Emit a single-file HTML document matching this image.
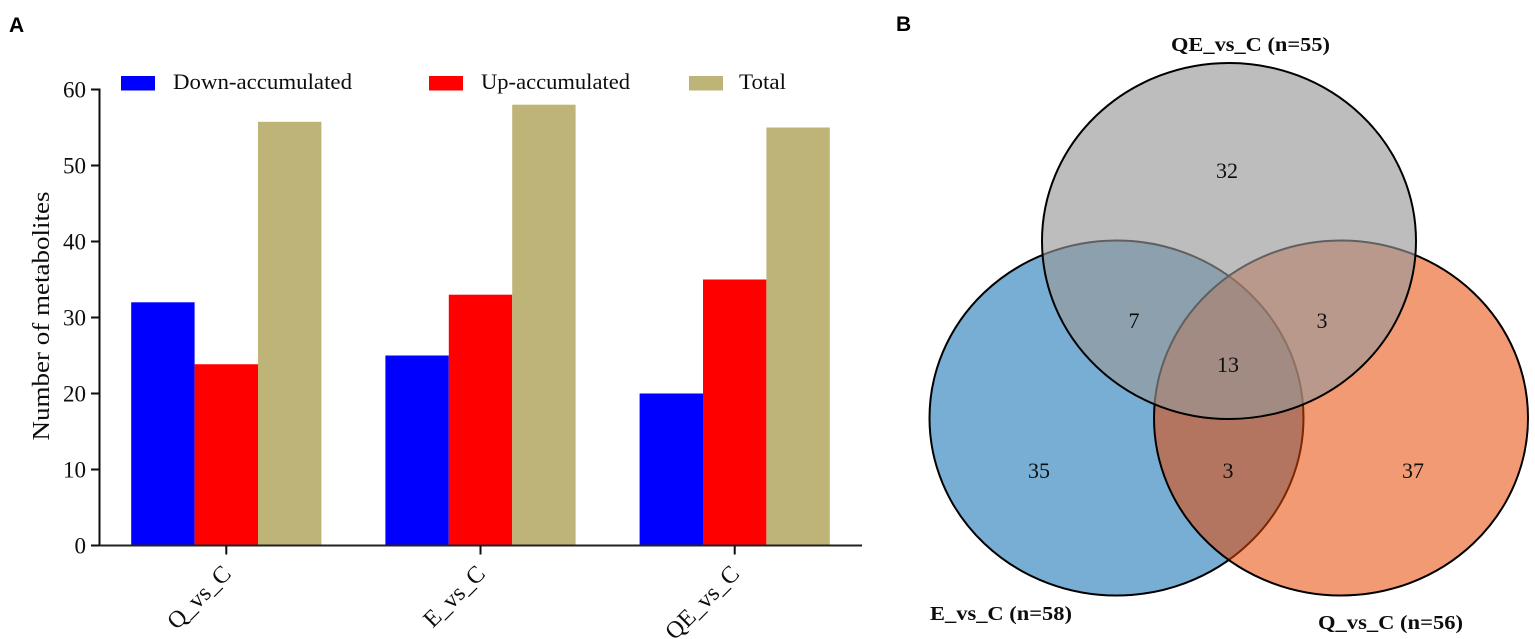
<!DOCTYPE html>
<html lang="en">
<head>
<meta charset="utf-8">
<title>Metabolite counts and Venn diagram</title>
<style>
html,body{margin:0;padding:0;background:#fff;width:1535px;height:639px;overflow:hidden}
svg{display:block}
text{font-family:"Liberation Serif",serif;fill:#111}
.panel{font-family:"Liberation Sans",sans-serif;font-weight:700;font-size:21px;fill:#000}
.vl{font-weight:700;font-size:20px}
.vn{font-size:22px;text-anchor:middle}
.soft{filter:url(#soft)}
</style>
</head>
<body>
<svg id="fig" xmlns="http://www.w3.org/2000/svg" width="1535" height="639" viewBox="0 0 1535 639">
  <defs><filter id="soft" x="-5%" y="-5%" width="110%" height="110%"><feGaussianBlur stdDeviation="0.35"/></filter></defs>
  <text class="panel" x="9" y="32">A</text>
  <text class="panel" x="896" y="31">B</text>
  <g id="chart" class="soft"></g>
  <g id="venn" class="soft">
    <ellipse cx="1116.5" cy="418" rx="187" ry="177.5" fill="#79aed4" stroke="#000" stroke-width="2"/>
    <ellipse cx="1341" cy="418" rx="187" ry="177.5" fill="#e64700" fill-opacity="0.55" stroke="#000" stroke-width="2"/>
    <ellipse cx="1229" cy="241" rx="187" ry="178" fill="#989898" fill-opacity="0.64" stroke="#000" stroke-width="2"/>
    <text class="vn" x="1227" y="178">32</text>
    <text class="vn" x="1134" y="328">7</text>
    <text class="vn" x="1322" y="328">3</text>
    <text class="vn" x="1228" y="372">13</text>
    <text class="vn" x="1039" y="478">35</text>
    <text class="vn" x="1228" y="478">3</text>
    <text class="vn" x="1413" y="478">37</text>
    <text class="vl" x="1171" y="51" textLength="159" lengthAdjust="spacingAndGlyphs">QE_vs_C (n=55)</text>
    <text class="vl" x="930" y="620" textLength="142" lengthAdjust="spacingAndGlyphs">E_vs_C (n=58)</text>
    <text class="vl" x="1318" y="629" textLength="145" lengthAdjust="spacingAndGlyphs">Q_vs_C (n=56)</text>
  </g>
</svg>
<script>
const categories = ['Q_vs_C', 'E_vs_C', 'QE_vs_C'];
const downValues = [32, 25, 20];
const upValues = [23.85, 33, 35];
const totalValues = [55.75, 58, 55];
const yTickLabels = [0, 10, 20, 30, 40, 50, 60];
const seriesNames = ['Down-accumulated', 'Up-accumulated', 'Total'];

const SVGNS = 'http://www.w3.org/2000/svg';
const chart = document.getElementById('chart');
const seriesColors = ['#0000ff', '#ff0000', '#bfb478'];
const seriesValues = [downValues, upValues, totalValues];
const barWidth = 63.4;

function yScale(v) { return 545.5 - v * (456 / 60); }
function xScale(i) { return 226.3 + i * 254.2; }

function make(tag, attrs, text) {
  const el = document.createElementNS(SVGNS, tag);
  for (const k in attrs) el.setAttribute(k, attrs[k]);
  if (text !== undefined) el.textContent = text;
  chart.appendChild(el);
  return el;
}

seriesValues.forEach(function (vals, s) {
  vals.forEach(function (v, i) {
    const bar = make('rect', {
      x: xScale(i) + (s - 1.5) * barWidth,
      y: yScale(v),
      width: barWidth,
      height: yScale(0) - yScale(v),
      fill: seriesColors[s]
    });
    
    
  });
});

const yAxis = make('line', { x1: 99.5, x2: 99.5, y1: yScale(60) - 1, y2: yScale(0) + 1, stroke: '#111', 'stroke-width': 2 });



const xAxis = make('line', { x1: 91, x2: 862, y1: yScale(0), y2: yScale(0), stroke: '#222', 'stroke-width': 2 });



yTickLabels.forEach(function (t) {
  const tick = make('line', { x1: 91, x2: 99.5, y1: yScale(t), y2: yScale(t), stroke: '#111', 'stroke-width': 2 });
  
  
  const label = make('text', { x: 86, y: yScale(t) + 8, 'text-anchor': 'end', 'font-size': 23 }, String(t));
  
  
});

categories.forEach(function (c, i) {
  const x = xScale(i);
  const tick = make('line', { x1: x, x2: x, y1: yScale(0), y2: yScale(0) + 9, stroke: '#111', 'stroke-width': 2 });
  
  
  const ax = x + 6, ay = 575;
  const label = make('text', { x: ax, y: ay, 'text-anchor': 'end', 'font-size': 24, transform: 'rotate(-45 ' + ax + ' ' + ay + ')' }, c);
  
  
});

const yTitle = make('text', { x: 49, y: 316, 'text-anchor': 'middle', 'font-size': 24, transform: 'rotate(-90 49 316)', textLength: 249, lengthAdjust: 'spacingAndGlyphs' }, 'Number of metabolites');



const legendSwatchX = [121, 429, 689];
const legendTextX = [173, 481, 739];
const legendTextW = [179, 149, 47];
seriesNames.forEach(function (n, s) {
  const sw = make('rect', { x: legendSwatchX[s], y: 76, width: 34, height: 14.5, fill: seriesColors[s] });
  
  
  const label = make('text', { x: legendTextX[s], y: 89, 'font-size': 22, textLength: legendTextW[s], lengthAdjust: 'spacingAndGlyphs' }, n);
  
  
});
</script>
</body>
</html>
